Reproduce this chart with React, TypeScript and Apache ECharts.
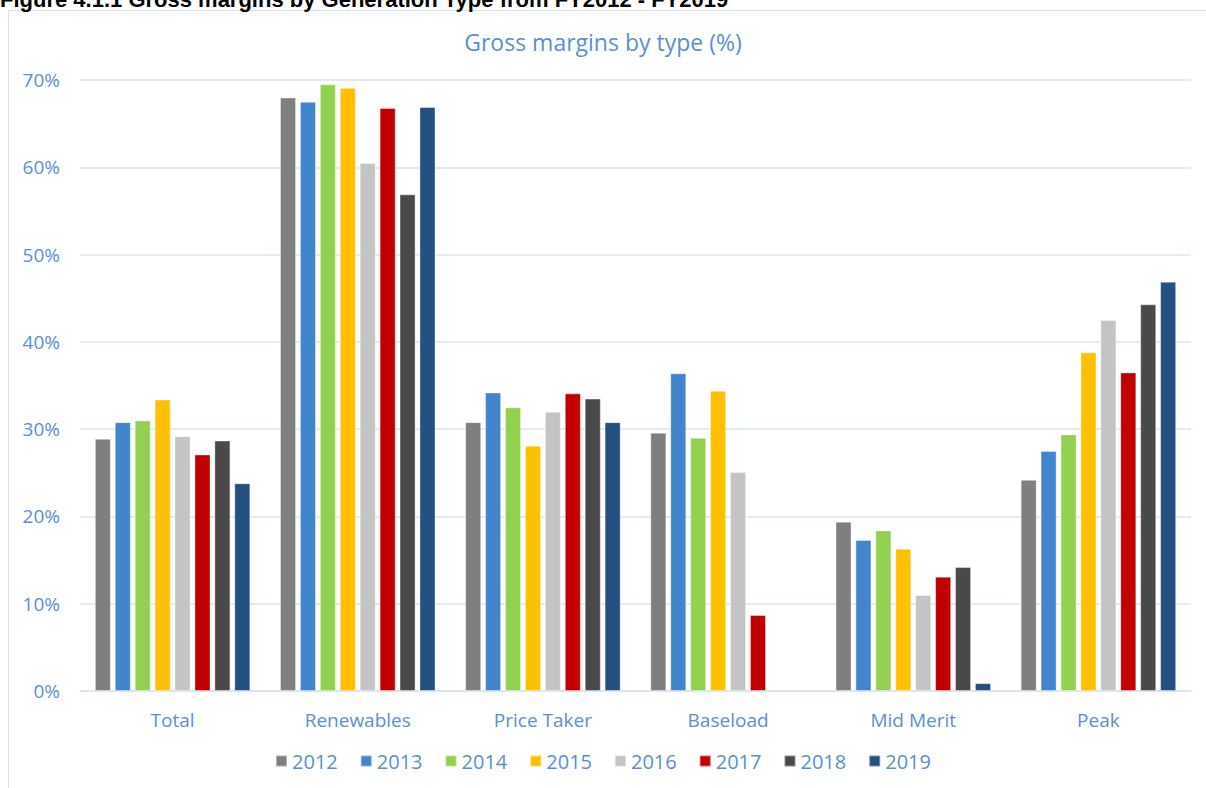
import React, { useEffect, useRef } from "react";
import * as echarts from "echarts";

const categories = ["Total", "Renewables", "Price Taker", "Baseload", "Mid Merit", "Peak"];
const years = ["2012", "2013", "2014", "2015", "2016", "2017", "2018", "2019"];
const colors = ["#7F7F7F", "#4285CC", "#92D050", "#FFC000", "#C4C4C4", "#C00000", "#494949", "#24507F"];

// Gross margin (%) per generation type, one array per financial year
const v2012 = [28.9, 68.0, 30.8, 29.6, 19.4, 24.2];
const v2013 = [30.8, 67.5, 34.2, 36.4, 17.3, 27.5];
const v2014 = [31.0, 69.5, 32.5, 29.0, 18.4, 29.4];
const v2015 = [33.4, 69.1, 28.1, 34.4, 16.3, 38.8];
const v2016 = [29.2, 60.5, 32.0, 25.1, 11.0, 42.5];
const v2017 = [27.1, 66.8, 34.1, 8.7, 13.1, 36.5];
const v2018 = [28.7, 56.9, 33.5, null, 14.2, 44.3];
const v2019 = [23.8, 66.9, 30.8, null, 0.9, 46.9];
const seriesValues = [v2012, v2013, v2014, v2015, v2016, v2017, v2018, v2019];

const yTicks = { min: 0, max: 70, interval: 10 };
const FONT = "'Open Sans', 'Liberation Sans', sans-serif";
const TEXT_BLUE = "#5B8FD3";
const GRID_LINE = "#D9E4F4";

export default function App() {
  const ref = useRef<HTMLDivElement>(null);

  useEffect(() => {
    if (!ref.current) return;
    const chart = echarts.init(ref.current, null, { renderer: "svg" });
    chart.setOption({
      animation: false,
      backgroundColor: "#FFFFFF",
      color: colors,
      textStyle: { fontFamily: FONT },
      title: {
        text: "Gross margins by type (%)",
        left: "center",
        top: 25,
        textStyle: { color: TEXT_BLUE, fontSize: 23, fontWeight: "normal", fontFamily: FONT },
      },
      graphic: [
        {
          type: "rect",
          shape: { x: 8.5, y: 10.5, width: 1400, height: 900 },
          style: { fill: "none", stroke: "#D6E0EF", lineWidth: 1 },
          silent: true,
        },
        {
          type: "text",
          left: 0,
          top: -12,
          style: {
            text: "Figure 4.1.1 Gross margins by Generation Type from FY2012 - FY2019",
            fontSize: 22,
            fontWeight: "bold",
            fontFamily: "'Liberation Sans', sans-serif",
            fill: "#000000",
          },
          silent: true,
        },
      ],
      legend: {
        data: years,
        bottom: 12,
        left: "center",
        itemWidth: 11,
        itemHeight: 11,
        itemGap: 22,
        icon: "rect",
        textStyle: { color: TEXT_BLUE, fontSize: 20, fontFamily: FONT },
      },
      grid: { left: 80, right: 15, top: 80, bottom: 97, containLabel: false },
      xAxis: {
        type: "category",
        data: categories,
        axisLine: { show: true, lineStyle: { color: GRID_LINE, width: 1.5 } },
        axisTick: { show: false },
        axisLabel: { color: TEXT_BLUE, fontSize: 19, margin: 19, fontFamily: FONT },
      },
      yAxis: {
        type: "value",
        min: yTicks.min,
        max: yTicks.max,
        interval: yTicks.interval,
        axisLine: { show: false },
        axisTick: { show: false },
        splitLine: { lineStyle: { color: GRID_LINE, width: 1.5 } },
        axisLabel: { formatter: "{value}%", color: TEXT_BLUE, fontSize: 19, margin: 20, fontFamily: FONT },
      },
      series: years.map((y, i) => ({
        name: y,
        type: "bar",
        data: seriesValues[i],
        barGap: "24%",
        barCategoryGap: "16%",
        itemStyle: { color: colors[i], borderColor: "rgba(255,255,255,0.4)", borderWidth: 1 },
      })),
    });
    return () => chart.dispose();
  }, []);

  return (
    <div
      ref={ref}
      style={{ position: "fixed", left: 0, top: 0, width: 1206, height: 788 }}
    />
  );
}
